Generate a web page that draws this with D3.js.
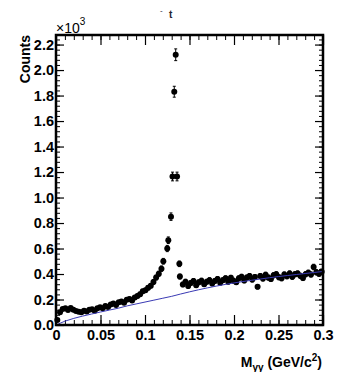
<!DOCTYPE html>
<html>
<head>
<meta charset="utf-8">
<script src="https://cdn.jsdelivr.net/npm/d3@7"></script>
<style>
  body { margin: 0; background: #fff; }
  svg { display: block; font-family: "Liberation Sans", Arial, sans-serif; }
</style>
</head>
<body>
<svg id="chart"></svg>
<script>
let width = 344, height = 372;

// invariant mass bins (GeV/c^2) and counts of the data points
const mass = [
  0.0015, 0.0045, 0.0075, 0.0105, 0.0135, 0.0165, 0.0195, 0.0225, 0.0255, 0.0285,
  0.0315, 0.0345, 0.0375, 0.0405, 0.0435, 0.0465, 0.0495, 0.0525, 0.0555, 0.0585,
  0.0615, 0.0645, 0.0675, 0.0705, 0.0735, 0.0765, 0.0795, 0.0825, 0.0855, 0.0885,
  0.0915, 0.0945, 0.0975, 0.1005, 0.1035, 0.1065, 0.1095, 0.1125, 0.1155, 0.1185,
  0.1206, 0.1250, 0.1262, 0.1292, 0.1309, 0.1329, 0.1345, 0.1360, 0.1386, 0.1392,
  0.1425, 0.1455, 0.1485, 0.1515, 0.1545, 0.1575, 0.1605, 0.1635, 0.1665, 0.1695,
  0.1725, 0.1755, 0.1785, 0.1815, 0.1845, 0.1875, 0.1905, 0.1935, 0.1965, 0.1995,
  0.2025, 0.2055, 0.2085, 0.2115, 0.2145, 0.2175, 0.2205, 0.2235, 0.2265, 0.2295,
  0.2325, 0.2355, 0.2385, 0.2415, 0.2445, 0.2475, 0.2505, 0.2535, 0.2565, 0.2595,
  0.2625, 0.2655, 0.2685, 0.2715, 0.2745, 0.2775, 0.2805, 0.2835, 0.2865, 0.2895,
  0.2925, 0.2955, 0.2985
];
const counts = [
  40, 100, 125, 132, 118, 134, 120, 110, 104, 100,
  112, 106, 120, 124, 112, 132, 140, 132, 150, 142,
  160, 168, 156, 178, 185, 174, 198, 204, 192, 215,
  228, 242, 264, 272, 292, 308, 338, 372, 402, 442,
  500, 600, 665, 850, 1165, 1830, 2120, 1165, 480, 380,
  318, 340, 305, 330, 345, 312, 335, 348, 320, 340,
  352, 326, 346, 360, 332, 352, 366, 340, 370, 348,
  336, 366, 378, 350, 372, 384, 356, 376, 300, 384,
  364, 394, 372, 360, 390, 398, 374, 366, 396, 382,
  404, 378, 398, 404, 386, 368, 398, 410, 396, 455,
  414, 402, 418
];

// blue reference curve
const refMass = [0, 0.01, 0.02, 0.03, 0.04, 0.05, 0.06, 0.07, 0.08, 0.09, 0.10,
  0.11, 0.12, 0.13, 0.14, 0.15, 0.16, 0.17, 0.18, 0.19, 0.20,
  0.21, 0.22, 0.23, 0.24, 0.25, 0.26, 0.27, 0.28, 0.29, 0.30];
const refCounts = [0, 30, 52, 70, 86, 102, 117, 132, 150, 165, 180,
  195, 210, 225, 243, 260, 276, 291, 305, 318, 330,
  341, 351, 361, 371, 380, 388, 396, 404, 412, 420];

const xTicks = [0, 0.05, 0.1, 0.15, 0.2, 0.25, 0.3];
const yTicks = [0, 200, 400, 600, 800, 1000, 1200, 1400, 1600, 1800, 2000, 2200];

let padL = 56, padR = 323, padT = 35, padB = 325;

let x = d3.scaleLinear().domain([0, 0.3]).range([padL, padR]);
let y = d3.scaleLinear().domain([0, 2275]).range([padB, padT]);

let svg = d3.select("#chart")
  .attr("width", width)
  .attr("height", height)
  .attr("viewBox", [0, 0, width, height]);

svg.append("rect")
  .attr("width", width).attr("height", height)
  .attr("fill", "white");

// minor ticks, all four sides, pointing inside
let xMinor = d3.range(0, 0.3001, 0.01);
let yMinor = d3.range(0, 2275, 40);

function minor(g) {
  g.select(".domain").remove();
  g.selectAll("line").attr("stroke", "#000").attr("stroke-width", 1);
}

svg.append("g").attr("transform", `translate(0,${padB})`)
  .call(d3.axisBottom(x).tickValues(xMinor).tickSize(-5).tickFormat(""))
  .call(minor);
svg.append("g").attr("transform", `translate(0,${padT})`)
  .call(d3.axisTop(x).tickValues(xMinor).tickSize(-5).tickFormat(""))
  .call(minor);
svg.append("g").attr("transform", `translate(${padL},0)`)
  .call(d3.axisLeft(y).tickValues(yMinor).tickSize(-4).tickFormat(""))
  .call(minor);
svg.append("g").attr("transform", `translate(${padR},0)`)
  .call(d3.axisRight(y).tickValues(yMinor).tickSize(-4).tickFormat(""))
  .call(minor);

// major ticks + labels
function major(g) {
  g.select(".domain").remove();
  g.selectAll("line").attr("stroke", "#000").attr("stroke-width", 1.2);
  g.selectAll("text")
    .attr("fill", "#000")
    .style("font-size", "14.5px")
    .style("font-weight", "bold")
    .style("font-family", "'Liberation Sans', Arial, sans-serif");
}

svg.append("g").attr("transform", `translate(0,${padB})`)
  .call(d3.axisBottom(x).tickValues(xTicks).tickSize(-10).tickPadding(5)
    .tickFormat(d => String(+d.toFixed(3))))
  .call(major);
svg.append("g").attr("transform", `translate(0,${padT})`)
  .call(d3.axisTop(x).tickValues(xTicks).tickSize(-10).tickFormat(""))
  .call(major);
svg.append("g").attr("transform", `translate(${padL},0)`)
  .call(d3.axisLeft(y).tickValues(yTicks).tickSize(-8).tickPadding(2)
    .tickFormat(d => (d / 1000).toFixed(1)))
  .call(major);
svg.append("g").attr("transform", `translate(${padR},0)`)
  .call(d3.axisRight(y).tickValues(yTicks).tickSize(-8).tickFormat(""))
  .call(major);

// data points with sqrt(N) error bars
let pts = mass.map((m, i) => ({ m: m, c: counts[i] }));

let errs = svg.append("g").attr("stroke", "#000").attr("stroke-width", 1);
errs.selectAll("line.eb")
  .data(pts)
  .join("line")
  .attr("class", "eb")
  .attr("x1", d => x(d.m)).attr("x2", d => x(d.m))
  .attr("y1", d => y(d.c - Math.sqrt(d.c)))
  .attr("y2", d => y(d.c + Math.sqrt(d.c)));
errs.selectAll("line.cap")
  .data(pts.flatMap(d => [d.c - Math.sqrt(d.c), d.c + Math.sqrt(d.c)].map(v => ({ m: d.m, v: v }))))
  .join("line")
  .attr("class", "cap")
  .attr("x1", d => x(d.m) - 1.5).attr("x2", d => x(d.m) + 1.5)
  .attr("y1", d => y(d.v)).attr("y2", d => y(d.v));

svg.append("g")
  .selectAll("circle")
  .data(pts)
  .join("circle")
  .attr("cx", d => x(d.m))
  .attr("cy", d => y(d.c))
  .attr("r", 3)
  .attr("fill", "#000");

// blue reference line drawn over the points
let refLine = d3.line()
  .x((d, i) => x(refMass[i]))
  .y(d => y(d));

svg.append("path")
  .datum(refCounts)
  .attr("d", refLine)
  .attr("fill", "none")
  .attr("stroke", "#3a3ab4")
  .attr("stroke-width", 1);

// frame
svg.append("rect")
  .attr("x", padL).attr("y", padT)
  .attr("width", padR - padL).attr("height", padB - padT)
  .attr("fill", "none")
  .attr("stroke", "#000")
  .attr("stroke-width", 2.5);

// axis titles
svg.append("text")
  .attr("transform", `translate(30,${padT}) rotate(-90)`)
  .attr("text-anchor", "end")
  .style("font-size", "14px")
  .style("font-weight", "bold")
  .text("Counts");

let mult = svg.append("text")
  .attr("x", padL)
  .attr("y", 33)
  .style("font-size", "14px");
mult.append("tspan").text("\u00d710");
mult.append("tspan").attr("dy", -8).style("font-size", "10px").text("3");

let xt = svg.append("text")
  .attr("x", 322)
  .attr("y", 367)
  .attr("text-anchor", "end")
  .style("font-size", "14px")
  .style("font-weight", "bold");
xt.append("tspan").text("M");
xt.append("tspan").attr("dy", 4).style("font-size", "10px").text("\u03b3\u03b3");
xt.append("tspan").attr("dy", -4).text(" (GeV/c");
xt.append("tspan").attr("dy", -6).style("font-size", "10px").text("2");
xt.append("tspan").attr("dy", 6).text(")");

// cropped title fragment at the top edge
svg.append("text")
  .attr("x", 160).attr("y", 13)
  .style("font-size", "8px")
  .attr("fill", "#223")
  .text("-");
svg.append("text")
  .attr("x", 169).attr("y", 18)
  .style("font-size", "10px")
  .style("font-weight", "bold")
  .attr("fill", "#223")
  .text("t");
</script>
</body>
</html>
